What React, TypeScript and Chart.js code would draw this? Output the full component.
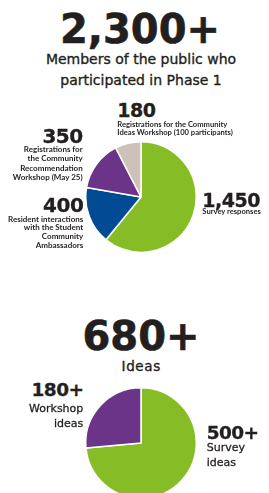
import React, { useEffect, useRef } from "react";
import { Chart, registerables } from "chart.js";

Chart.register(...registerables);

// ---- Data ----
const participantCategories = [
  "Survey responses",
  "Resident interactions with the Student Community Ambassadors",
  "Registrations for the Community Recommendation Workshop (May 25)",
  "Registrations for the Community Ideas Workshop (100 participants)",
];
const participantValues = [1450, 400, 350, 180];
const participantColors = ["#86bc25", "#004b93", "#6c3489", "#cdc1ba"];

const ideaCategories = ["Survey ideas", "Workshop ideas"];
const ideaValues = [500, 180];
const ideaColors = ["#86bc25", "#6c3489"];

const totalParticipantsLabel = "2,300+";
const totalIdeasLabel = "680+";

const INK = "#231f20";
const BIG = "'DejaVu Sans', sans-serif";
const SMALL = "Lato, sans-serif";

type TxtProps = {
  x: number;
  baseline: number;
  align: "left" | "right" | "center";
  family: string;
  size: number;
  weight?: number;
  lh?: number;
  ls?: number;
  stroke?: number;
  lines: string[];
};

function Txt({ x, baseline, align, family, size, weight = 400, lh, ls = 0, stroke = 0, lines }: TxtProps) {
  const L = lh ?? size;
  const k = family === BIG ? 0.346 : 0.387;
  const top = baseline - L / 2 - k * size;
  const style: React.CSSProperties = {
    position: "absolute",
    top,
    fontFamily: family,
    fontSize: size,
    fontWeight: weight,
    lineHeight: `${L}px`,
    letterSpacing: ls,
    color: INK,
    whiteSpace: "nowrap",
    textAlign: align,
  };
  if (stroke) (style as any).WebkitTextStroke = `${stroke}px ${INK}`;
  if (align === "left") style.left = x;
  else if (align === "right") style.right = 269 - x;
  else {
    style.left = x - 150;
    style.width = 300;
  }
  return (
    <div style={style}>
      {lines.map((l, i) => (
        <div key={i}>{l}</div>
      ))}
    </div>
  );
}

function Pie({ labels, values, colors, left, top, size }: { labels: string[]; values: number[]; colors: string[]; left: number; top: number; size: number }) {
  const ref = useRef<HTMLCanvasElement>(null);
  useEffect(() => {
    if (!ref.current) return;
    const chart = new Chart(ref.current, {
      type: "pie",
      data: {
        labels,
        datasets: [
          {
            data: values,
            backgroundColor: colors,
            borderColor: "#ffffff",
            borderWidth: 1.5,
            hoverOffset: 0,
            offset: 0,
          },
        ],
      },
      options: {
        animation: false,
        responsive: true,
        maintainAspectRatio: false,
        layout: { padding: 0 },
        plugins: { legend: { display: false }, tooltip: { enabled: false } },
        events: [],
      },
    });
    return () => chart.destroy();
  }, []);
  return (
    <div style={{ position: "absolute", left, top, width: size, height: size }}>
      <canvas ref={ref} />
    </div>
  );
}

export default function App() {
  return (
    <div
      style={{
        position: "absolute",
        left: 0,
        top: 0,
        width: 269,
        height: 493,
        overflow: "hidden",
        background: "#ffffff",
      }}
    >
      <Txt x={140} baseline={43.3} align="center" family={BIG} size={40} weight={700} stroke={0.6} lines={[totalParticipantsLabel]} />
      <Txt
        x={141}
        baseline={64}
        align="center"
        family={BIG}
        size={14}
        weight={400}
        lh={21}
        stroke={0.35}
        lines={["Members of the public who", "participated in Phase 1"]}
      />

      <Pie labels={participantCategories} values={participantValues} colors={participantColors} left={85} top={141} size={112} />

      <Txt x={117.3} baseline={116.7} align="left" family={BIG} size={19} weight={700} lh={14} ls={-0.5} stroke={0.3} lines={[String(participantValues[3])]} />
      <Txt
        x={117.3}
        baseline={126.5}
        align="left"
        family={SMALL}
        size={7.6}
        weight={700}
        lh={8}
        lines={["Registrations for the Community", "Ideas Workshop (100 participants)"]}
      />

      <Txt x={82.7} baseline={143.3} align="right" family={BIG} size={20} weight={700} lh={14} ls={-0.5} stroke={0.3} lines={[String(participantValues[2])]} />
      <Txt
        x={82.7}
        baseline={153}
        align="right"
        family={SMALL}
        size={8}
        weight={700}
        lh={9.1}
        lines={["Registrations for", "the Community", "Recommendation", "Workshop (May 25)"]}
      />

      <Txt x={83.3} baseline={211.7} align="right" family={BIG} size={20} weight={700} lh={14} ls={-0.5} stroke={0.3} lines={[String(participantValues[1])]} />
      <Txt
        x={83.3}
        baseline={222}
        align="right"
        family={SMALL}
        size={8}
        weight={700}
        lh={8.7}
        lines={["Resident interactions", "with the Student", "Community", "Ambassadors"]}
      />

      <Txt x={202.3} baseline={206.7} align="left" family={BIG} size={19} weight={700} lh={14} ls={-0.5} stroke={0.3} lines={["1,450"]} />
      <Txt x={202.3} baseline={214.8} align="left" family={SMALL} size={7.6} weight={700} lh={7} lines={["Survey responses"]} />

      <Txt x={141} baseline={350} align="center" family={BIG} size={40} weight={700} stroke={0.6} lines={[totalIdeasLabel]} />
      <Txt x={141.2} baseline={371} align="center" family={BIG} size={13.5} weight={400} ls={0.6} stroke={0.35} lines={["Ideas"]} />

      <Pie labels={ideaCategories} values={ideaValues} colors={ideaColors} left={85} top={387} size={112} />

      <Txt x={83.3} baseline={396.7} align="right" family={BIG} size={18.5} weight={700} lh={14} ls={-0.6} stroke={0.3} lines={[`${ideaValues[1]}+`]} />
      <Txt x={83.3} baseline={413.3} align="right" family={BIG} size={11} weight={400} lh={14.7} stroke={0.3} lines={["Workshop", "ideas"]} />

      <Txt x={206.7} baseline={439} align="left" family={BIG} size={18.5} weight={700} lh={14} ls={-0.6} stroke={0.3} lines={[`${ideaValues[0]}+`]} />
      <Txt x={206.7} baseline={451.7} align="left" family={BIG} size={11} weight={400} lh={15} stroke={0.3} lines={["Survey", "ideas"]} />
    </div>
  );
}
